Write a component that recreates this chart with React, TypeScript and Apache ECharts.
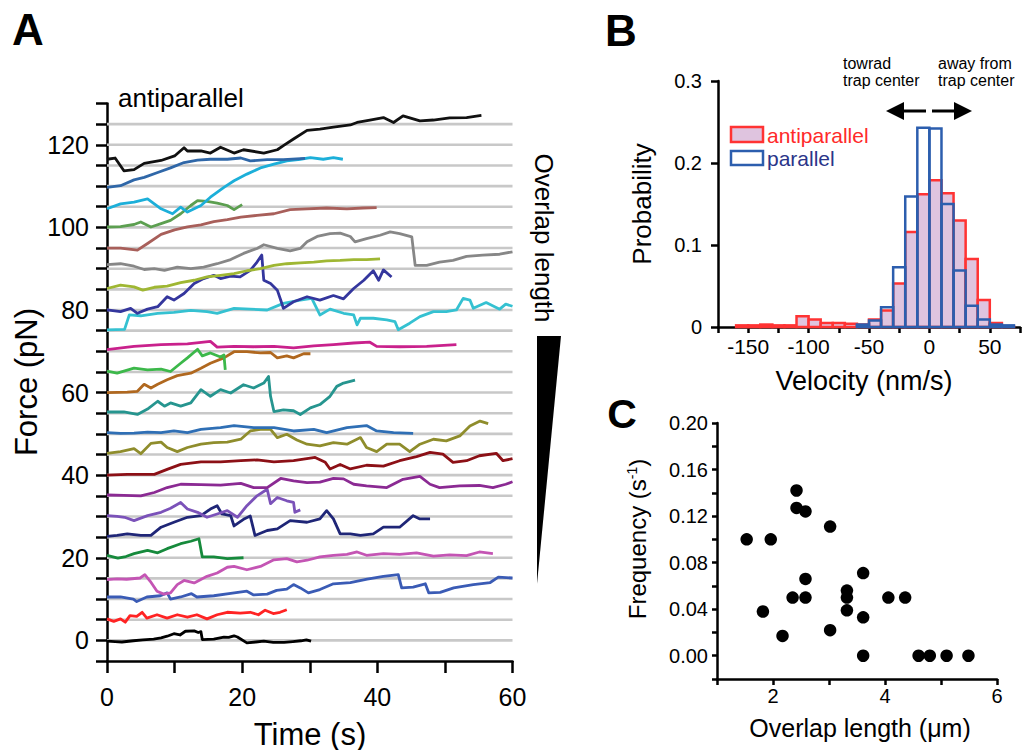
import React, { useEffect, useRef } from "react";
import * as echarts from "echarts";

const FONT = "'Liberation Sans', Arial, Helvetica, sans-serif";

// ---------- Panel A: force traces (time s, force pN) ----------
const baselines = [0, 5, 10, 15, 20, 25, 30, 35, 40, 45, 50, 55, 60, 65, 70, 75, 80, 85, 90, 95, 100, 105, 110, 115, 120, 125];

const trace0 = [[0,-0.2],[1.2,-0.3],[2.2,-0.4],[3.9,-0.1],[5.3,0.1],[6.9,0.3],[8.0,0.6],[8.9,1.0],[9.9,1.6],[10.8,1.3],[11.6,2.2],[12.9,2.3],[13.5,1.9],[13.9,2.1],[14.1,0.2],[15.8,0.3],[17.3,0.8],[18.0,0.7],[18.8,1.1],[19.3,0.8],[20.7,-0.6],[22.0,-0.4],[23.2,-0.2],[24.6,-0.5],[26.2,-0.5],[27.5,-0.3],[28.7,-0.1],[29.5,0.1],[30.2,-0.2]];
const trace5 = [[0,5.2],[1,4.6],[2,5.2],[2.7,4.4],[3.4,6.0],[4.4,5.8],[5.2,6.8],[5.9,5.4],[7.4,6.2],[8.9,5.4],[10.4,6.2],[11.9,5.6],[13.3,6.2],[14.8,5.2],[16.3,6.2],[17.8,6.8],[19.7,6.6],[21.2,6.8],[22.4,6.2],[23.4,7.3],[24.6,6.5],[25.6,6.8],[26.6,7.4]];
const trace10 = [[0,10.5],[2,10.5],[3.9,10],[4.4,9.4],[5.9,10.5],[7.9,10.8],[8.9,11.5],[9.4,10],[10.9,10.5],[12.5,11.3],[13.3,10.5],[15.8,10.8],[18.3,11.4],[20.7,11.9],[21.7,11],[23.7,11.2],[25.1,12.1],[26.6,12.4],[27.6,13.5],[28.6,12.7],[29.8,11.5],[31.5,12.3],[33.5,13.7],[36,14],[38.5,14.8],[40.9,15.5],[43.1,15.9],[43.6,12.7],[45.3,12.9],[47.1,13.7],[47.6,11.5],[49.3,11.6],[51.3,12.7],[54.2,13.5],[56.7,14],[57.9,15.3],[60,15.1]];
const trace15 = [[0,14.7],[1.5,14.9],[2.9,14.8],[4.9,15.1],[5.6,15.9],[6.4,14.3],[7.4,11.9],[8.4,11.2],[9.4,11.5],[10.4,13.5],[11.4,14.5],[12.9,13.9],[14.8,15.5],[16.3,16.3],[17.8,17.7],[18.8,17.9],[20.7,17.1],[22.7,17.9],[24.7,19.5],[26.6,19.8],[28.1,19],[29.6,19.4],[31.5,20.2],[33.5,20.6],[35.5,20.8],[37,21.4],[38.4,20.6],[40.9,21],[43.3,20.8],[45.8,21.2],[48.3,20.4],[50.7,20.7],[53.2,20.5],[55.1,21.4],[57.1,21]];
const trace20 = [[0,20.6],[1.6,19.9],[2.8,20.3],[4,21],[6,21.8],[7.5,21.2],[8.9,22.2],[10.9,23.4],[12.4,24],[13.6,24.6],[14.1,20.2],[15.8,20.2],[17.8,19.8],[20.2,20]];
const trace25 = [[0,25.2],[1.5,25.4],[3,25.8],[5,25.4],[6.5,25.4],[8,27.4],[9.9,28.6],[11.9,29.8],[13.9,30.2],[15.3,31.8],[16.3,32.6],[17,30.6],[18.3,30.2],[18.8,27.7],[20.2,29.3],[21.2,30.1],[21.9,25.4],[23.7,26.6],[25.2,27],[27.1,29],[29.6,28.6],[31.5,29.4],[32.5,31.4],[33.5,29.4],[34.5,25.8],[36,25.8],[37.5,25.4],[39.4,25.8],[40.9,27.4],[43.3,27.4],[45.3,30.2],[46.3,29.4],[47.8,29.4]];
const trace30 = [[0,30.2],[1.5,30],[2.6,29.8],[4,29],[6,30.2],[8,31],[9.4,32],[10.9,33.4],[11.9,31.8],[13.4,31],[14.8,29.8],[16.3,30.6],[17.8,31.4],[19.3,29.8],[20.7,32.6],[22.2,35],[23.7,36.6],[24.2,33.1],[25.2,34.6],[26.6,33.8],[27.6,33.4],[27.8,31],[28.6,31.6]];
const trace35 = [[0,35.2],[2.5,35.1],[5,35],[7,35.8],[8.9,37],[10.9,37.8],[13.9,37.7],[16.8,37.6],[19.8,38],[21.7,37],[23.7,37],[25.7,39.2],[27.6,38.6],[29.6,38.2],[31.5,38.3],[33.5,39.2],[35,39.1],[36.5,37.8],[38.4,37.4],[41.4,37],[43.8,39],[46.3,39.7],[47.8,37.8],[49.2,37],[52.2,37.4],[55.1,37.5],[57.1,37],[59,37.8],[60,38.4]];
const trace40 = [[0,40],[3,40.2],[7,40.2],[8.9,41.4],[10.9,42.6],[13.9,43.2],[16.8,43.2],[19.8,43.5],[22.2,43.7],[24.7,43.2],[27.6,43.5],[30.8,44.3],[32.3,43.1],[33,41.5],[34.5,42.6],[36,41.5],[38.4,42.4],[40.9,42.2],[43.3,43.5],[45.8,44.5],[47.8,45.5],[49.7,45.1],[51.2,43.1],[53.2,43.5],[55.1,44.7],[57.6,45.3],[58.6,43.5],[60,44]];
const trace45 = [[0,45.3],[2,45.7],[4,46.4],[5,45.2],[6.5,47.7],[8,48],[8.9,46.7],[10.4,45.7],[11.9,46.7],[13.9,47.5],[15.8,47.9],[17.8,48],[19.8,48.7],[21.2,50.7],[22.7,51.1],[24.2,51.1],[25.2,49.1],[26.6,49.9],[28.1,48.5],[29.6,47.5],[31.5,47.1],[33.5,47.9],[35.5,47.5],[37.5,49.1],[38.4,46.7],[39.9,45.7],[41.4,47.5],[43.3,47.5],[44.8,45.7],[46.3,47.5],[48.3,48.7],[50.2,48.3],[52.2,49.5],[53.7,51.9],[55.2,53.1],[56.4,52.5]];
const trace50 = [[0,50.3],[2,50.1],[4,50.2],[6,50.4],[8,50.3],[9.9,50.7],[11.9,50.3],[13.9,51.1],[16.8,51.5],[18.8,52],[21.7,51.5],[24.7,51.5],[27.6,50.7],[30.6,51.1],[32.5,50.3],[35.5,51.5],[38.4,52],[39.9,50.7],[42.4,50.3],[45.3,50.1]];
const trace55 = [[0,55.3],[2.5,55.3],[4.5,54.7],[6,56],[7.5,57.9],[8.5,56.7],[9.4,57.5],[10.9,56.7],[12.4,57.5],[13.9,60.7],[15.3,59.1],[16.8,60.7],[18.3,59.9],[20.2,61.9],[21.7,61.1],[23.2,62.3],[23.9,63.9],[24.2,59.1],[24.7,55.4],[26.1,55.8],[27.6,55.6],[28.6,54.7],[30.1,56.3],[31.5,57.1],[33,59.1],[34,61.5],[35,62.3],[36,62.7],[36.7,63]];
const trace60 = [[0,60],[3,60.1],[4.5,60.3],[5.5,62],[6.5,61.1],[7.5,62],[8.9,63.1],[10.4,64.1],[12.4,64.7],[13.9,65.9],[15.3,67.1],[17.3,68.4],[18.8,69.9],[20.7,69.9],[22.7,69.6],[24.2,69.7],[25.2,68.4],[26.6,68.9],[27.6,68.4],[29.1,69.4],[30.1,69.4]];
const trace65 = [[0,65.2],[1.5,64.7],[4,65.9],[6,65.5],[8,65.7],[9.4,65.1],[10.9,67.1],[11.9,68.4],[13.4,70.5],[14.1,68.9],[15.3,69.6],[16.8,68.6],[17.3,69.1],[17.5,65.5]];
const trace70 = [[0,70.4],[4,71.2],[8,71.6],[11.9,71.8],[15.3,72.4],[16.3,71],[18.8,71.2],[21.7,71.1],[24.7,71.2],[27.6,70.8],[30.6,71.3],[33.5,71.6],[36.5,72],[38.9,72.2],[39.9,71.2],[43.3,71.1],[47.3,71.2],[51.7,71.6]];
const trace75 = [[0,75.2],[2.6,75.3],[3.3,78.8],[5,78.6],[7.5,79.2],[9.9,79.4],[12.4,79.9],[14.8,79.6],[16.3,79.2],[18.8,80.4],[21.2,80.2],[23.7,80],[26.1,81.6],[28.6,82.4],[30.3,82.8],[31.5,78.8],[33,80.2],[35,79.2],[36.5,78.8],[37,76.4],[37.5,78],[39.4,78],[41.4,77.6],[42.6,77.2],[43.1,75.2],[44.8,76.8],[46.3,78.4],[48.3,79.6],[50.2,79.6],[51.7,80],[52.7,82.8],[53.7,82.4],[54.2,80.4],[56.1,81.8],[58.1,80.2],[59,81.4],[60,80.9]];
const trace80 = [[0,80],[2,79.6],[3.5,80.4],[4.5,79.2],[6,80.2],[7.5,80.8],[8.9,83.2],[9.9,82.4],[11.4,84],[12.9,86.4],[14.3,87.6],[15.8,88.4],[16.8,87.6],[18.3,88.2],[19.7,88],[21.2,89.6],[22.2,91.6],[22.9,93.3],[23.2,87.2],[24.2,86.4],[25.2,84.8],[25.7,82.4],[26.1,80.4],[27.6,82],[29.6,83.2],[31.5,82.4],[33.5,83.5],[35,82.7],[36.5,85.2],[38,87.2],[39.4,89.5],[40.2,87.2],[40.9,89.7],[42.1,88]];
const trace85 = [[0,85.2],[2,86],[4,85.6],[5.3,84.8],[7,85.5],[8.9,85.8],[10.9,86.6],[12.9,87.2],[14.8,88],[16.8,88.4],[18.8,88.8],[20.7,89.5],[22.7,90],[24.7,90.8],[26.6,91.2],[28.6,91.4],[30.6,91.6],[32.5,91.9],[34.5,92],[36.5,92.2],[38.4,92.2],[40.4,92.4]];
const trace90 = [[0,91],[2,91.2],[4,90.6],[5.5,89.8],[7,90],[8.5,89.6],[10.4,90.4],[12.4,90],[14.3,90.4],[16.3,91.2],[18.3,92.2],[20.2,93.7],[22.2,94.9],[23.2,95.8],[25.2,94.9],[27.1,94.3],[28.6,94.9],[29.6,96.5],[31.1,97.8],[33,98.5],[34.5,98.6],[36,97.8],[36.7,96.5],[38.4,97.3],[40.4,98.1],[41.9,98.9],[43.3,98.5],[45.1,97.7],[45.6,90.8],[47.3,90.8],[49.2,91.6],[51.2,92],[53.2,93],[55.6,93.3],[58.1,93.5],[60,94.1]];
const trace95 = [[0,95],[2,95],[4.5,94.5],[6,96.1],[8,98.3],[10,99.4],[11.9,100.1],[13.9,100.6],[15.8,101.4],[17.8,101.9],[19.8,102.5],[22.2,102.9],[24.7,103.3],[27.1,104.3],[29.6,104.5],[32.5,104.7],[35.5,104.5],[37.9,104.7],[39.9,104.8]];
const trace100 = [[0,100.1],[2,100.2],[4,100.7],[5,101.3],[6.5,100.1],[8,100.9],[9.4,101.7],[10.9,103.3],[12.4,105.3],[13.4,106.5],[14.8,106.3],[16.3,105.9],[17.8,105.3],[18.8,104.3],[20,105.5]];
const trace105 = [[0,104.5],[2,105.7],[4,106.1],[6,106.9],[7,105.7],[8,104.5],[9.7,103.3],[10.9,104.9],[11.9,103.7],[13.9,105.3],[15.3,107.3],[17.3,109.7],[18.8,111.3],[20.7,112.9],[22.7,114.4],[24.7,115.3],[26.6,116.1],[28.6,116.5],[30.1,116.9],[32,116.5],[33.5,116.9],[34.9,116.5]];
const trace110 = [[0,109.7],[2,110.1],[4,111.5],[5.5,112.1],[7.5,113.3],[9.4,114.4],[11.4,115.7],[13.4,116.3],[15.3,116.5],[17.8,116.5],[19.8,116.8],[21.2,116.1],[23.7,116.4],[26.1,116.4],[29.3,116.7]];
const trace115 = [[0,116.5],[1.2,116.8],[2.5,113.7],[4,114],[5.5,115.5],[8,116.2],[10,117.3],[11.4,119.3],[11.9,118.5],[13.9,118.5],[15.3,118],[16.8,119.4],[18.8,118],[20.2,118.8],[23.2,118],[25.2,118.8],[26.1,119.8],[27.6,121.4],[29.6,123.5],[31.5,123.8],[33.5,124.3],[36,124.8],[37,125.4],[38.9,126],[40.9,126.6],[42.4,125.4],[43.8,127],[46.3,125.8],[48.3,126],[50.7,126.5],[53.2,126.6],[55.4,127.1]];

const traces = [trace0, trace5, trace10, trace15, trace20, trace25, trace30, trace35, trace40, trace45, trace50, trace55, trace60, trace65, trace70, trace75, trace80, trace85, trace90, trace95, trace100, trace105, trace110, trace115];
const traceColors = ["#000000", "#ff2323", "#3a5bb5", "#c455b4", "#168a3c", "#1f2677", "#7b52b9", "#8b2a93", "#8c1016", "#8f8d2c", "#2f6fb5", "#26958f", "#b0681f", "#3cb84a", "#c9218c", "#35c1d1", "#34369d", "#9fb733", "#878787", "#a85f5a", "#5c9f50", "#1cafd9", "#2f67a8", "#111111"];

// ---------- Panel B: velocity histogram ----------
const binWidth = 10;
const velBinStart = [-160, -150, -140, -130, -120, -110, -100, -90, -80, -70, -60, -50, -40, -30, -20, -10, 0, 10, 20, 30, 40, 50, 60];
const antiProb = [0.002, 0.002, 0.003, 0.002, 0.002, 0.013, 0.009, 0.005, 0.005, 0.004, 0.003, 0.009, 0.020, 0.053, 0.116, 0.162, 0.179, 0.163, 0.130, 0.083, 0.033, 0.005, 0.001];
const paraProb = [0, 0, 0, 0, 0, 0, 0, 0, 0, 0, 0.003, 0.008, 0.024, 0.073, 0.159, 0.243, 0.242, 0.150, 0.069, 0.026, 0.009, 0.003, 0.002];

// ---------- Panel C: frequency vs overlap ----------
const overlapLen = [1.53, 1.96, 1.82, 2.17, 2.42, 2.42, 2.58, 3.02, 2.35, 2.58, 2.58, 3.02, 3.32, 3.32, 3.32, 3.61, 3.61, 3.61, 4.06, 4.36, 4.60, 4.80, 5.10, 5.49];
const freq = [0.100, 0.100, 0.038, 0.017, 0.142, 0.127, 0.124, 0.111, 0.050, 0.050, 0.066, 0.022, 0.056, 0.050, 0.039, 0.071, 0.033, 0.000, 0.050, 0.050, 0.000, 0.000, 0.000, 0.000];

const axisBase = (tickLen: number, fontSize: number, margin: number, formatter: any) => ({
  axisLine: { show: true, onZero: false, lineStyle: { color: "#000", width: 2.5 } },
  axisTick: { show: true, length: tickLen, lineStyle: { color: "#000", width: 2.5 } },
  axisLabel: { color: "#000", fontSize, fontFamily: FONT, margin, formatter, showMinLabel: true, showMaxLabel: true },
  splitLine: { show: false },
});

const histRender = (fill: string, stroke: string) => (params: any, api: any) => {
  const x0 = api.value(0);
  const x1 = api.value(1);
  const y = api.value(2);
  if (!(y > 0)) return null;
  const p0 = api.coord([x0, y]);
  const p1 = api.coord([x1, 0]);
  return {
    type: "rect",
    shape: { x: p0[0], y: p0[1], width: p1[0] - p0[0], height: p1[1] - p0[1] },
    style: { fill, stroke, lineWidth: 2.5 },
  };
};

export default function App() {
  const ref = useRef<HTMLDivElement>(null);
  useEffect(() => {
    document.body.style.margin = "0";
    if (!ref.current) return;
    const chart = echarts.init(ref.current, null, { renderer: "svg" });

    const txt = (x: number, y: number, text: string, size: number, extra: any = {}, el: any = {}) => ({
      type: "text",
      x,
      y,
      silent: true,
      ...el,
      style: { text, fontSize: size, fontFamily: FONT, fill: "#000", textAlign: "center", textVerticalAlign: "middle", ...extra },
    });

    const series: any[] = [];
    baselines.forEach((b) =>
      series.push({ type: "line", xAxisIndex: 0, yAxisIndex: 0, data: [[0, b], [60, b]], symbol: "none", silent: true, z: 1, lineStyle: { color: "#c8c8c8", width: 2.6 } })
    );
    traces.forEach((d, i) =>
      series.push({ type: "line", xAxisIndex: 0, yAxisIndex: 0, data: d, symbol: "none", showSymbol: false, silent: true, z: 3, lineStyle: { color: traceColors[i], width: 2.8, join: "round" } })
    );
    series.push({
      type: "custom", name: "antiparallel", xAxisIndex: 1, yAxisIndex: 1, silent: true, z: 3,
      encode: { x: [0, 1], y: 2 },
      data: velBinStart.map((s, i) => [s, s + binWidth, antiProb[i]]),
      renderItem: histRender("#dfc4df", "#ff3333"),
    });
    series.push({
      type: "custom", name: "parallel", xAxisIndex: 1, yAxisIndex: 1, silent: true, z: 4,
      encode: { x: [0, 1], y: 2 },
      data: velBinStart.map((s, i) => [s, s + binWidth, paraProb[i]]),
      renderItem: histRender("none", "#2c5eae"),
    });
    series.push({
      type: "scatter", xAxisIndex: 2, yAxisIndex: 2, silent: true, symbolSize: 12.5,
      itemStyle: { color: "#000", opacity: 1 },
      data: overlapLen.map((x, i) => [x, freq[i]]),
    });

    const option: any = {
      animation: false,
      backgroundColor: "#fff",
      grid: [
        { left: 107, top: 103.5, width: 405.5, height: 557.5 },
        { left: 718, top: 81, width: 303, height: 246 },
        { left: 717, top: 423, width: 280, height: 256 },
      ],
      xAxis: [
        { type: "value", gridIndex: 0, min: 0, max: 60, interval: 10, ...axisBase(12, 25, 23, (v: number) => (v % 20 === 0 ? String(v) : "")) },
        { type: "value", gridIndex: 1, min: -175, max: 75, interval: 25, ...axisBase(6, 21, 9, (v: number) => (v % 50 === 0 ? String(v) : "")) },
        { type: "value", gridIndex: 2, min: 1, max: 6, interval: 1, ...axisBase(6, 20, 7, (v: number) => (v % 2 === 0 ? String(v) : "")) },
      ],
      yAxis: [
        { type: "value", gridIndex: 0, min: -5, max: 130, interval: 5, ...axisBase(11, 25, 18, (v: number) => (v % 20 === 0 ? String(v) : "")) },
        { type: "value", gridIndex: 1, min: 0, max: 0.3, interval: 0.1, ...axisBase(7, 20, 16, (v: number) => String(Math.round(v * 10) / 10)) },
        {
          type: "value", gridIndex: 2, min: -0.02, max: 0.2, interval: 0.02,
          ...axisBase(5, 20, 9, (v: number) => {
            const k = Math.round(v * 100);
            return k >= 0 && k % 4 === 0 ? (k / 100).toFixed(2) : "";
          }),
        },
      ],
      series,
      graphic: [
        // panel letters
        txt(28, 29, "A", 44, { fontWeight: "bold" }),
        txt(621, 30, "B", 44, { fontWeight: "bold" }),
        txt(622, 414, "C", 41, { fontWeight: "bold" }),
        // panel A texts
        txt(118, 98, "antiparallel", 26, { textAlign: "left" }),
        txt(26, 382, "Force (pN)", 31, {}, { rotation: Math.PI / 2 }),
        txt(310, 734, "Time (s)", 31),
        txt(544, 238, "Overlap length", 26, {}, { rotation: -Math.PI / 2 }),
        { type: "polygon", silent: true, shape: { points: [[537, 336], [561, 336], [537, 584]] }, style: { fill: "#000" } },
        // panel B texts
        txt(642, 204, "Probability", 26, {}, { rotation: Math.PI / 2 }),
        txt(864, 381, "Velocity (nm/s)", 27),
        txt(843, 72, "towrad\ntrap center", 16, { textAlign: "left", lineHeight: 17 }),
        txt(938, 72, "away from\ntrap center", 16, { textAlign: "left", lineHeight: 17 }),
        { type: "line", silent: true, shape: { x1: 902, y1: 111, x2: 926, y2: 111 }, style: { stroke: "#000", lineWidth: 3 } },
        { type: "polygon", silent: true, shape: { points: [[886, 111], [904, 102], [904, 120]] }, style: { fill: "#000" } },
        { type: "line", silent: true, shape: { x1: 932, y1: 111, x2: 956, y2: 111 }, style: { stroke: "#000", lineWidth: 3 } },
        { type: "polygon", silent: true, shape: { points: [[972, 111], [954, 102], [954, 120]] }, style: { fill: "#000" } },
        { type: "rect", silent: true, shape: { x: 731, y: 127, width: 32, height: 15 }, style: { fill: "#dfc4df", stroke: "#ff3333", lineWidth: 2.5 } },
        { type: "rect", silent: true, shape: { x: 731, y: 151, width: 32, height: 14 }, style: { fill: "#fff", stroke: "#2c5eae", lineWidth: 2.5 } },
        txt(767, 135, "antiparallel", 21, { textAlign: "left", fill: "#ff2a2a" }),
        txt(767, 158, "parallel", 21, { textAlign: "left", fill: "#2b3589" }),
        // panel C texts
        {
          type: "text", x: 637, y: 539, rotation: Math.PI / 2, silent: true,
          style: {
            text: "{a|Frequency (s}{s|-1}{a|)}",
            textAlign: "center", textVerticalAlign: "middle", fill: "#000",
            fontSize: 24, fontFamily: FONT,
            rich: {
              a: { fontSize: 24, fontFamily: FONT, fill: "#000" },
              s: { fontSize: 14, fontFamily: FONT, fill: "#000", verticalAlign: "top", padding: [0, 0, 10, 0] },
            },
          },
        },
        txt(860, 728, "Overlap length (μm)", 25),
      ],
    };
    chart.setOption(option);
    return () => chart.dispose();
  }, []);
  return <div ref={ref} style={{ width: 1023, height: 750 }} />;
}
